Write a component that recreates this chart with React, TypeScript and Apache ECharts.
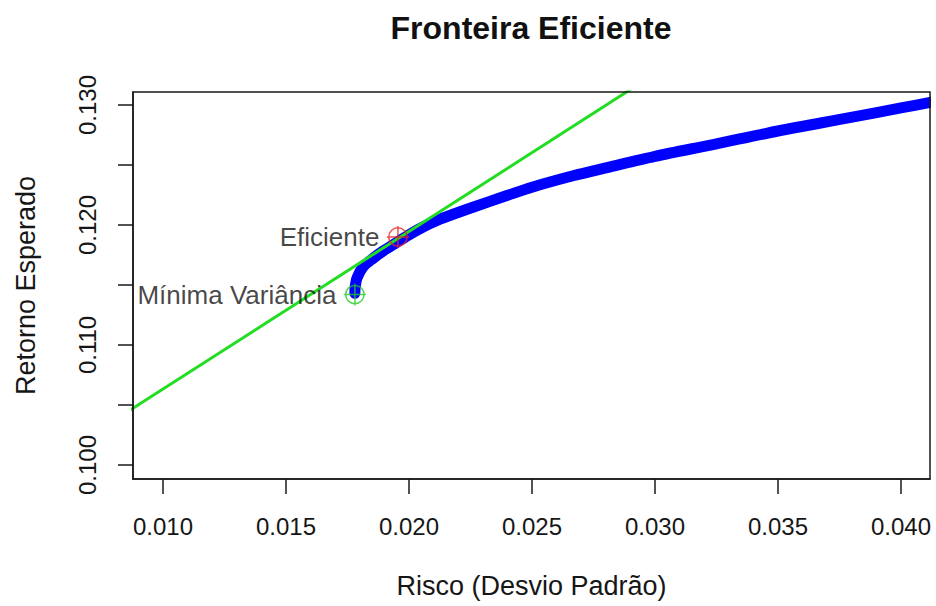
import React, { useEffect, useRef } from "react";
import * as echarts from "echarts";

// Efficient frontier (risk = std dev, return = expected return)
const frontierRisk = [
  0.0178, 0.01781, 0.01789, 0.01813, 0.01854, 0.01894, 0.01951, 0.02004, 0.02057, 0.02126,
  0.0226, 0.02398, 0.025, 0.02667, 0.02805, 0.03, 0.03236, 0.035, 0.0378, 0.04, 0.0413,
];
const frontierReturn = [
  0.1143, 0.1148, 0.1156, 0.1165, 0.11722, 0.11782, 0.11855, 0.11923, 0.11983, 0.12048,
  0.12148, 0.12245, 0.12315, 0.1241, 0.12478, 0.12572, 0.1267, 0.12783, 0.1289, 0.12975, 0.13025,
];

// Tangent (capital market) line end points
const tangentRisk = [0.008, 0.03];
const tangentReturn = [0.1037, 0.1326];

// Highlighted portfolios
const effRisk = [0.01955];
const effReturn = [0.119];
const minVarRisk = [0.0178];
const minVarReturn = [0.1142];

// Axis ticks
const xTicks = [0.01, 0.015, 0.02, 0.025, 0.03, 0.035, 0.04];
const yTicks = [0.1, 0.105, 0.11, 0.115, 0.12, 0.125, 0.13];
const yLabels = [0.1, 0.11, 0.12, 0.13];

const FONT = "'Liberation Sans', Arial, sans-serif";
const TXT = "#161616";
const CROSS =
  "path://M2,12 A10,10 0 1,1 22,12 A10,10 0 1,1 2,12 Z M12,0 L12,24 M0,12 L24,12";

export default function App() {
  const ref = useRef<HTMLDivElement>(null);
  useEffect(() => {
    document.body.style.margin = "0";
    const chart = echarts.init(ref.current!, undefined, { renderer: "svg" });
    const zip = (a: number[], b: number[]) => a.map((v, i) => [v, b[i]]);
    chart.setOption({
      animation: false,
      backgroundColor: "#ffffff",
      textStyle: { fontFamily: FONT },
      title: {
        text: "Fronteira Eficiente",
        left: 531,
        top: 12,
        textAlign: "center",
        padding: 0,
        textStyle: { fontFamily: FONT, fontWeight: "bold", fontSize: 32, color: "#111" },
      },
      grid: {
        left: 133,
        top: 92,
        right: 6,
        bottom: 127,
        show: true,
        borderColor: "#1a1a1a",
        borderWidth: 1.5,
        backgroundColor: "transparent",
        z: 20,
      },
      graphic: [
        {
          type: "rect",
          shape: { x: 931, y: 0, width: 10, height: 606 },
          style: { fill: "#ffffff" },
          z: 10,
          silent: true,
        },
      ],
      xAxis: {
        type: "value",
        min: 0.00878,
        max: 0.04118,
        name: "Risco (Desvio Padrão)",
        nameLocation: "middle",
        nameGap: 93,
        nameTextStyle: { fontFamily: FONT, fontSize: 27, color: TXT },
        axisLine: { show: true, lineStyle: { color: "#1a1a1a", width: 1.5 } },
        axisTick: { show: true, length: 15, customValues: xTicks, lineStyle: { color: "#1a1a1a", width: 1.5 } },
        axisLabel: {
          customValues: xTicks,
          formatter: (v: number) => v.toFixed(3),
          margin: 35,
          fontFamily: FONT,
          fontSize: 24,
          color: TXT,
        },
        splitLine: { show: false },
        z: 20,
      },
      yAxis: {
        type: "value",
        min: 0.09883,
        max: 0.13108,
        name: "Retorno Esperado",
        nameLocation: "middle",
        nameRotate: 90,
        nameGap: 94,
        nameTextStyle: { fontFamily: FONT, fontSize: 27, color: TXT },
        axisLine: { show: true, lineStyle: { color: "#1a1a1a", width: 1.5 } },
        axisTick: { show: true, length: 15, customValues: yTicks, lineStyle: { color: "#1a1a1a", width: 1.5 } },
        axisLabel: {
          customValues: yLabels,
          formatter: (v: number) => v.toFixed(3),
          rotate: 90,
          margin: 34,
          fontFamily: FONT,
          fontSize: 24,
          color: TXT,
        },
        splitLine: { show: false },
        z: 20,
      },
      series: [
        {
          type: "line",
          data: zip(tangentRisk, tangentReturn),
          symbol: "none",
          lineStyle: { color: "#22dd22", width: 3 },
          clip: true,
          z: 3,
        },
        {
          type: "line",
          data: zip(frontierRisk, frontierReturn),
          symbol: "none",
          smooth: 0.3,
          lineStyle: { color: "#0000ff", width: 11, cap: "round", join: "round" },
          clip: true,
          z: 2,
        },
        {
          type: "scatter",
          data: zip(effRisk, effReturn),
          symbol: CROSS,
          symbolSize: 22,
          itemStyle: { color: "none", borderColor: "#ee2222", borderWidth: 1.5 },
          label: {
            show: true,
            formatter: "Eficiente",
            position: "left",
            distance: 5,
            fontFamily: FONT,
            fontSize: 26,
            color: TXT,
          },
          z: 4,
        },
        {
          type: "scatter",
          data: zip(minVarRisk, minVarReturn),
          symbol: CROSS,
          symbolSize: 22,
          itemStyle: { color: "none", borderColor: "#22cc22", borderWidth: 1.5 },
          label: {
            show: true,
            formatter: "Mínima Variância",
            position: "left",
            distance: 5,
            fontFamily: FONT,
            fontSize: 26,
            color: TXT,
          },
          z: 4,
        },
      ],
    });
    return () => chart.dispose();
  }, []);
  return <div ref={ref} style={{ width: 936, height: 606 }} />;
}
